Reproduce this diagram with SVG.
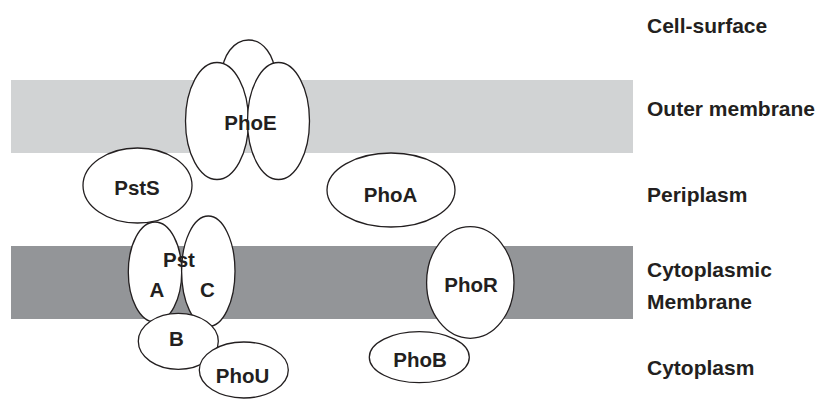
<svg xmlns="http://www.w3.org/2000/svg" width="818" height="400" viewBox="0 0 818 400">
<style>
  .p { fill: #ffffff; stroke: #231f20; stroke-width: 1.3; }
  .t { font-family: "Liberation Sans", Arial, Helvetica, sans-serif; font-weight: bold; fill: #231f20; }
  .n { font-size: 20.5px; text-anchor: middle; }
  .l { font-size: 21px; }
</style>
<rect x="11" y="80" width="622" height="73" fill="#d1d3d4"/>
<rect x="11" y="246" width="622" height="73" fill="#939598"/>
<g id="PhoE">
  <ellipse class="p" cx="248.5" cy="75" rx="26.5" ry="35"/>
  <ellipse class="p" cx="217" cy="121" rx="31.5" ry="58.5"/>
  <ellipse class="p" cx="278.5" cy="121" rx="31" ry="58.5"/>
  <text class="t n" x="250.5" y="130">PhoE</text>
</g>
<g id="PstS">
  <ellipse class="p" cx="137.5" cy="185.5" rx="54.5" ry="37.5"/>
  <text class="t n" x="137" y="195">PstS</text>
</g>
<g id="PhoA">
  <ellipse class="p" cx="391" cy="190" rx="64" ry="37"/>
  <text class="t n" x="390.5" y="202">PhoA</text>
</g>
<g id="PstAC">
  <ellipse class="p" cx="155" cy="272" rx="26.7" ry="50"/>
  <ellipse class="p" cx="208.3" cy="271.3" rx="26.7" ry="55.3"/>
  <text class="t n" x="179" y="267">Pst</text>
  <text class="t n" x="157" y="297">A</text>
  <text class="t n" x="207.5" y="297">C</text>
</g>
<g id="PstB">
  <ellipse class="p" cx="178.3" cy="341.3" rx="40" ry="28"/>
  <text class="t n" x="176.5" y="346">B</text>
</g>
<g id="PhoU">
  <ellipse class="p" cx="243.8" cy="370" rx="44.5" ry="28"/>
  <text class="t n" x="242.5" y="383">PhoU</text>
</g>
<g id="PhoR">
  <ellipse class="p" cx="470.3" cy="282.5" rx="43.7" ry="55.8"/>
  <text class="t n" x="471" y="292">PhoR</text>
</g>
<g id="PhoB">
  <ellipse class="p" cx="419.3" cy="357.2" rx="50" ry="25.5"/>
  <text class="t n" x="420" y="367">PhoB</text>
</g>
<g id="connectors"></g>
<g id="labels">
  <text class="t l" x="647" y="33">Cell-surface</text>
  <text class="t l" x="647" y="116">Outer membrane</text>
  <text class="t l" x="647" y="202">Periplasm</text>
  <text class="t l" x="647" y="277">Cytoplasmic</text>
  <text class="t l" x="647" y="309">Membrane</text>
  <text class="t l" x="647" y="375">Cytoplasm</text>
</g>
</svg>
